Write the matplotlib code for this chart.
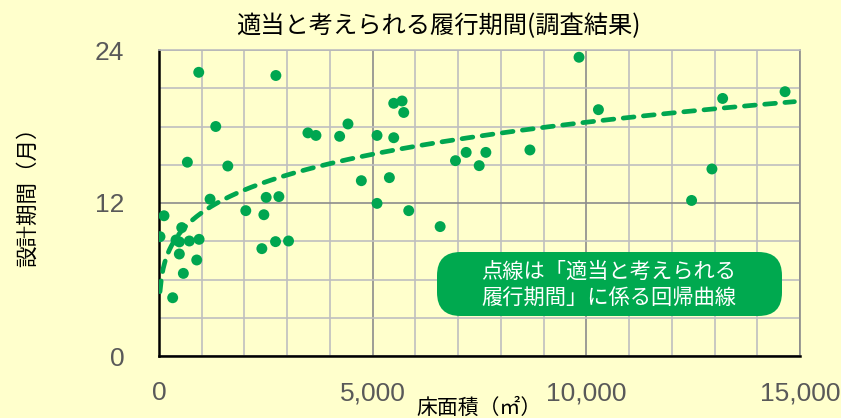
import numpy as np
import matplotlib
matplotlib.use("Agg")
import matplotlib.pyplot as plt
from matplotlib.patches import FancyBboxPatch
from matplotlib.ticker import MultipleLocator, FuncFormatter

# floor area (m2) and design period (months)
floor_area = [930, 2735, 1328, 664, 1610, 1195, 117, 23, 532, 398,
              476, 710, 938, 476, 883, 570, 320, 2031, 2454, 2508,
              2805, 2407, 2727, 3031, 3485, 3673, 4227, 4422, 4735, 5102,
              5102, 5493, 5688, 5727, 5493, 5391, 5844, 6579, 6938, 7188,
              7493, 7649, 8680, 9829, 10283, 13190, 14650, 12939, 12463]
period = [22.25, 22.0, 18.0, 15.2, 14.9, 12.3, 11.0, 9.36, 10.07, 9.1,
          8.95, 9.02, 9.15, 8.0, 7.53, 6.48, 4.57, 11.4, 11.08, 12.44,
          12.5, 8.42, 8.97, 9.02, 17.5, 17.3, 17.23, 18.2, 13.75, 17.3,
          11.97, 19.82, 20.0, 19.1, 17.12, 13.99, 11.4, 10.15, 15.32, 15.97,
          14.93, 15.97, 16.16, 23.43, 19.32, 20.2, 20.73, 14.67, 12.2]

# regression curve y = a * x^b, coefficients
trend_a = 2.59
trend_b = 0.2125
trend_end = 14870

title = "適当と考えられる履行期間(調査結果)"
xlabel = "床面積（㎡）"
ylabel = "設計期間（月）"
note = "点線は「適当と考えられる\n履行期間」に係る回帰曲線"

BG = "#FFFFCC"
GREEN = "#00A650"
JP = ["Noto Sans CJK JP", "DejaVu Sans"]

fig = plt.figure(figsize=(8.41, 4.18), dpi=100, facecolor=BG)
ax = fig.add_axes([159 / 841, 1 - 356 / 418, 641 / 841, 306 / 418])
ax.set_facecolor(BG)

x = np.array(floor_area, dtype=float)
y = np.array(period)
ax.scatter(x, y, s=62, color=GREEN, edgecolors="none", zorder=3)

xs = np.linspace(x.min(), trend_end, 400)
ax.plot(xs, trend_a * xs ** trend_b, color=GREEN, lw=3.4,
        ls=(0, (2.3, 2.0)), dash_capstyle="round", zorder=4)

ax.set_xlim(0, 15000)
ax.set_ylim(0, 24)
ax.xaxis.set_major_locator(MultipleLocator(5000))
ax.xaxis.set_minor_locator(MultipleLocator(1000))
ax.yaxis.set_major_locator(MultipleLocator(12))
ax.yaxis.set_minor_locator(MultipleLocator(3))
ax.xaxis.set_major_formatter(FuncFormatter(lambda v, p: f"{int(v):,}"))
ax.grid(which="minor", color="#BFBFBF", lw=1.2)
ax.grid(which="major", color="#8C8C8C", lw=1.2)
ax.set_axisbelow(True)
ax.tick_params(which="both", length=0)
ax.tick_params(axis="x", pad=18, labelsize=19, labelcolor="#595959")
ax.tick_params(axis="y", pad=25, labelsize=19, labelcolor="#595959")
for lab in ax.get_xticklabels() + ax.get_yticklabels():
    lab.set_family("Liberation Sans")

for side in ("left", "bottom"):
    ax.spines[side].set_color("black")
    ax.spines[side].set_linewidth(1.8)
ax.spines["top"].set_color("#BFBFBF")
ax.spines["top"].set_linewidth(1.2)
ax.spines["right"].set_color("#8C8C8C")
ax.spines["right"].set_linewidth(1.2)

fig.text(438 / 841, 1 - 26 / 418, title, family=JP, fontsize=17.5,
         ha="center", va="center")
fig.text(28 / 841, 1 - 192 / 418, ylabel, family=JP, fontsize=15.5,
         rotation=90, ha="center", va="center")
fig.text(479 / 841, 1 - 408 / 418, xlabel, family=JP, fontsize=15,
         ha="center", va="center")

box = FancyBboxPatch((437 / 841, 1 - 316 / 418), 345 / 841, 64 / 418,
                     boxstyle="round,pad=0,rounding_size=0.028",
                     transform=fig.transFigure, facecolor="#00A94F",
                     edgecolor="none", zorder=5, mutation_aspect=841 / 418)
fig.patches.append(box)
fig.text(609 / 841, 1 - 285 / 418, note, family=JP, fontsize=15.3,
         color="white", ha="center", va="center", linespacing=1.3, zorder=6)

fig.savefig("out.png", dpi=100, facecolor=BG)
